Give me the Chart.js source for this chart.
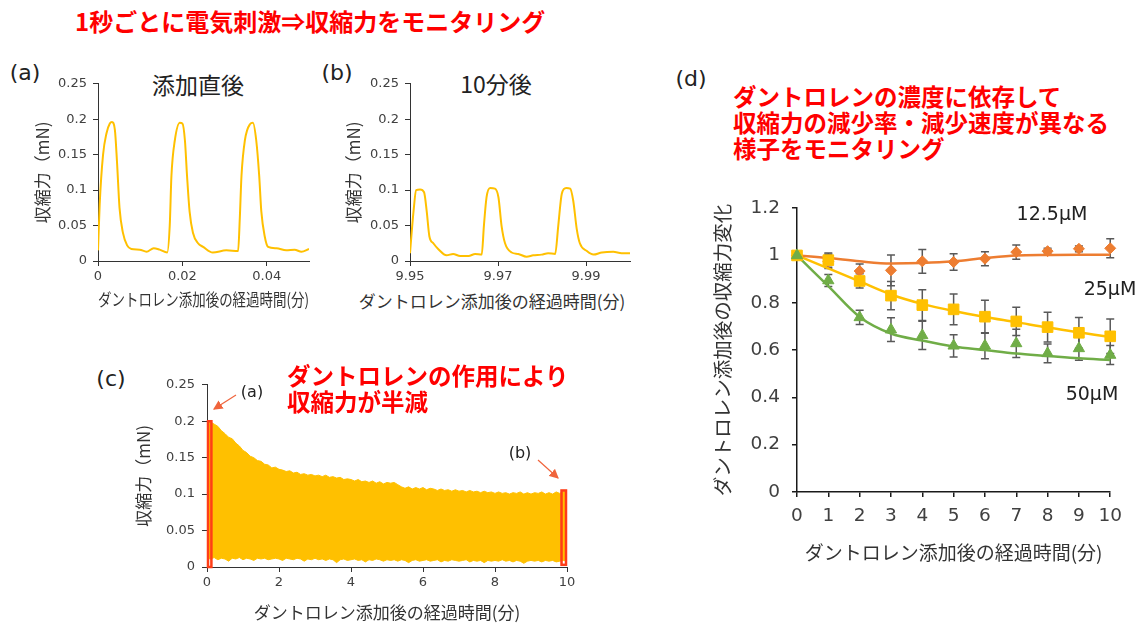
<!DOCTYPE html>
<html>
<head>
<meta charset="utf-8">
<script src="https://cdn.jsdelivr.net/npm/chart.js@4.4.0/dist/chart.umd.min.js"></script>
<style>
body { margin: 0; width: 1142px; height: 624px; background: #fff; position: relative; overflow: hidden; font-family: 'DejaVu Sans', 'Noto Sans CJK JP', sans-serif; }
canvas { position: absolute; }
.t { position: absolute; white-space: nowrap; transform: translate(-50%, -50%); color: #222; }
.red { position: absolute; white-space: nowrap; color: #ff0000; font-weight: bold; font-family: 'Noto Sans CJK JP', sans-serif; font-size: 23.5px; line-height: 26px; }
svg { position: absolute; left: 0; top: 0; }
</style>
</head>
<body>
<div class="red" style="left:75px;top:8px;font-size:24px;">1秒ごとに電気刺激⇒収縮力をモニタリング</div>

<div class="t" style="left:25px;top:72px;font-size:22px;">(a)</div>
<div class="t" style="left:337px;top:72px;font-size:22px;">(b)</div>
<div class="t" style="left:111px;top:378px;font-size:22px;">(c)</div>
<div class="t" style="left:691px;top:78px;font-size:22px;">(d)</div>

<div class="t" style="left:198px;top:84px;font-size:23px;font-family:'Noto Sans CJK JP';">添加直後</div>
<div class="t" style="left:496px;top:83px;font-size:23px;font-family:'Noto Sans CJK JP';">10分後</div>
<div class="t" style="left:492px;top:300px;font-size:17px;font-family:'Noto Sans CJK JP';color:#333;">ダントロレン添加後の経過時間(分)</div>

<canvas id="chartA" width="293" height="244" style="left:28px;top:70px;"></canvas>
<canvas id="chartB" width="303" height="244" style="left:339px;top:70px;"></canvas>
<canvas id="chartC" width="453" height="257" style="left:129px;top:370px;"></canvas>
<canvas id="chartD" width="423" height="383" style="left:707px;top:185px;"></canvas>

<div class="red" style="left:287px;top:362px;">ダントロレンの作用により<br>収縮力が半減</div>
<div class="red" style="left:733px;top:83px;">ダントロレンの濃度に依存して<br>収縮力の減少率・減少速度が異なる<br>様子をモニタリング</div>

<div class="t" style="left:252px;top:391px;font-size:16px;">(a)</div>
<div class="t" style="left:520px;top:452px;font-size:16px;">(b)</div>

<div class="t" style="left:1052px;top:213px;font-size:19px;">12.5µM</div>
<div class="t" style="left:1110px;top:288px;font-size:19px;">25µM</div>
<div class="t" style="left:1092px;top:393px;font-size:19px;">50µM</div>

<svg width="1142" height="624">
  <defs>
    <marker id="ah" markerWidth="8" markerHeight="8" refX="7" refY="4" orient="auto">
      <path d="M0,0 L8,4 L0,8 z" fill="#f0643c"/>
    </marker>
  </defs>
  <line x1="236" y1="395" x2="214" y2="409" stroke="#f0643c" stroke-width="1.2" marker-end="url(#ah)"/>
  <line x1="538" y1="460" x2="558" y2="478" stroke="#f0643c" stroke-width="1.2" marker-end="url(#ah)"/>
</svg>

<script>
// (a) 添加直後 : time (min) / force (mN)
const aTime = [0, 0.0004, 0.0012, 0.002, 0.0028, 0.0033, 0.004, 0.0045, 0.0051, 0.0059, 0.0069, 0.0079, 0.0099, 0.0115, 0.0132, 0.0146, 0.0164,
  0.017, 0.0174, 0.0182, 0.0194, 0.02, 0.0206, 0.0211, 0.0217, 0.0225, 0.0237, 0.0249, 0.0272, 0.0304, 0.0332,
  0.0336, 0.034, 0.0348, 0.036, 0.0367, 0.0375, 0.0382, 0.0387, 0.0395, 0.0403, 0.0423, 0.0446, 0.0466, 0.0482, 0.05];
const aForce = [0.015, 0.08, 0.15, 0.18, 0.194, 0.196, 0.185, 0.14, 0.075, 0.04, 0.022, 0.017, 0.016, 0.013, 0.018, 0.016, 0.012,
  0.05, 0.12, 0.17, 0.195, 0.194, 0.17, 0.12, 0.07, 0.04, 0.025, 0.02, 0.012, 0.015, 0.014,
  0.06, 0.12, 0.17, 0.193, 0.195, 0.17, 0.12, 0.07, 0.035, 0.02, 0.018, 0.015, 0.016, 0.013, 0.017];

// (b) 10分後
const bTime = [9.95, 9.9508, 9.9514, 9.9523, 9.9532, 9.9538, 9.9544, 9.9553, 9.9564, 9.9583, 9.9598, 9.9614, 9.9633, 9.9648, 9.9663,
  9.9668, 9.9674, 9.9682, 9.9693, 9.9701, 9.9708, 9.9716, 9.9731, 9.9746, 9.9765, 9.978, 9.9799, 9.9814, 9.983,
  9.9837, 9.9845, 9.9855, 9.9864, 9.9871, 9.9879, 9.9886, 9.9902, 9.9917, 9.9936, 9.9962, 9.9981, 10.0];
const bForce = [0.011, 0.07, 0.1, 0.101, 0.097, 0.07, 0.035, 0.025, 0.017, 0.008, 0.01, 0.007, 0.007, 0.01, 0.009,
  0.05, 0.09, 0.103, 0.102, 0.09, 0.05, 0.025, 0.012, 0.01, 0.006, 0.008, 0.009, 0.011, 0.01,
  0.05, 0.095, 0.103, 0.102, 0.085, 0.045, 0.025, 0.014, 0.009, 0.012, 0.013, 0.011, 0.011];

// (c) 10分間の収縮力（0.1分ごとの上限・下限）
const cUpper = [
  0.200, 0.199, 0.196, 0.193, 0.187, 0.183, 0.178, 0.176, 0.170, 0.166,
  0.160, 0.157, 0.152, 0.150, 0.146, 0.145, 0.141, 0.140, 0.136, 0.137,
  0.134, 0.133, 0.131, 0.132, 0.129, 0.130, 0.127, 0.128, 0.126, 0.127,
  0.125, 0.126, 0.124, 0.126, 0.123, 0.124, 0.122, 0.123, 0.120, 0.121,
  0.120, 0.118, 0.120, 0.117, 0.118, 0.116, 0.118, 0.115, 0.117, 0.114,
  0.116, 0.115, 0.116, 0.113, 0.110, 0.108, 0.110, 0.107, 0.109, 0.107,
  0.109, 0.106, 0.108, 0.107, 0.105, 0.107, 0.105, 0.106, 0.104, 0.106,
  0.104, 0.105, 0.103, 0.105, 0.103, 0.104, 0.102, 0.104, 0.102, 0.103,
  0.101, 0.103, 0.101, 0.102, 0.100, 0.102, 0.101, 0.103, 0.100, 0.102,
  0.100, 0.102, 0.101, 0.103, 0.100, 0.102, 0.100, 0.103, 0.101, 0.104,
  0.102];
const cLower = [
  0.012, 0.011, 0.013, 0.010, 0.012, 0.011, 0.008, 0.012, 0.011, 0.013,
  0.010, 0.012, 0.011, 0.009, 0.012, 0.011, 0.012, 0.010, 0.011, 0.012,
  0.011, 0.009, 0.012, 0.011, 0.010, 0.012, 0.011, 0.008, 0.011, 0.010,
  0.012, 0.010, 0.011, 0.009, 0.011, 0.010, 0.006, 0.010, 0.011, 0.009,
  0.010, 0.011, 0.009, 0.010, 0.007, 0.010, 0.009, 0.011, 0.010, 0.008,
  0.010, 0.009, 0.010, 0.008, 0.010, 0.009, 0.006, 0.009, 0.010, 0.008,
  0.009, 0.010, 0.008, 0.009, 0.010, 0.007, 0.009, 0.008, 0.010, 0.009,
  0.008, 0.009, 0.010, 0.007, 0.009, 0.008, 0.009, 0.006, 0.009, 0.008,
  0.009, 0.008, 0.010, 0.008, 0.009, 0.007, 0.009, 0.008, 0.005, 0.008,
  0.009, 0.008, 0.009, 0.007, 0.009, 0.008, 0.009, 0.007, 0.008, 0.009,
  0.008];
const cTime = cUpper.map((_, i) => i / 10);
// 拡大区間 (a),(b) : [xmin, xmax, ymin, ymax]
const boxA = [0, 0.15, 0, 0.2];
const boxB = [9.82, 10, 0.003, 0.105];

// (d) 濃度別の収縮力変化
const minutesD = [0, 1, 2, 3, 4, 5, 6, 7, 8, 9, 10];
const mean125 = [1.0, 0.975, 0.934, 0.937, 0.975, 0.972, 0.986, 1.014, 1.018, 1.028, 1.03];
const err125 = [0, 0.03, 0.03, 0.065, 0.05, 0.035, 0.03, 0.03, 0.012, 0.012, 0.04];
const fit125 = [1.0, 0.989, 0.975, 0.966, 0.968, 0.975, 0.989, 1.0, 1.002, 1.003, 1.003];
const mean25 = [1.0, 0.98, 0.892, 0.83, 0.79, 0.772, 0.741, 0.721, 0.697, 0.673, 0.658];
const err25 = [0, 0.03, 0.03, 0.06, 0.065, 0.065, 0.07, 0.06, 0.063, 0.065, 0.073];
const fit25 = [1.0, 0.945, 0.89, 0.835, 0.795, 0.765, 0.74, 0.718, 0.695, 0.675, 0.655];
const mean50 = [1.0, 0.894, 0.738, 0.686, 0.662, 0.618, 0.618, 0.628, 0.586, 0.607, 0.579];
const err50 = [0, 0.025, 0.03, 0.05, 0.06, 0.047, 0.055, 0.06, 0.04, 0.05, 0.04];
const fit50 = [1.0, 0.87, 0.74, 0.67, 0.64, 0.615, 0.6, 0.585, 0.575, 0.565, 0.558];

// tick labels
const ticksForce = [0, 0.05, 0.1, 0.15, 0.2, 0.25];
const ticksTimeA = [0, 0.02, 0.04];
const ticksTimeB = [9.95, 9.97, 9.99];
const ticksTimeC = [0, 2, 4, 6, 8, 10];
const ticksTimeD = [0, 1, 2, 3, 4, 5, 6, 7, 8, 9, 10];
const ticksRatioD = [0, 0.2, 0.4, 0.6, 0.8, 1, 1.2];

const TICK_COLOR = '#404040';
const YELLOW = '#ffc000';

function makeAxis(o) {
    const axisColor = o.axisColor || '#333';
    return {
        type: 'linear',
        min: o.min,
        max: o.max,
        border: { display: true, color: axisColor, width: o.axisWidth || 1 },
        grid: { drawOnChartArea: false, drawTicks: true, tickLength: 5, color: axisColor, lineWidth: o.axisWidth || 1 },
        ticks: {
            color: TICK_COLOR,
            font: { family: 'DejaVu Sans', size: o.tickSize },
            padding: o.pad,
            maxRotation: 0,
            autoSkip: false,
            callback: v => String(v)
        },
        title: o.title
            ? { display: true, text: o.title, color: '#333', padding: 4, font: { family: "'Noto Sans CJK JP'", size: o.titleSize } }
            : { display: false },
        afterBuildTicks: ax => { ax.ticks = o.ticks.map(v => ({ value: v })); },
        afterFit: ax => { if (o.isY) ax.width = o.size; else ax.height = o.size; }
    };
}

const baseOptions = (padding, x, y) => ({
    responsive: false,
    animation: false,
    layout: { padding: padding },
    plugins: { legend: { display: false }, tooltip: { enabled: false } },
    scales: { x: x, y: y }
});

function pairs(xs, ys) {
    return xs.map((x, i) => ({ x: x, y: ys[i] }));
}

// (a)
new Chart(document.getElementById('chartA'), {
    type: 'line',
    data: {
        datasets: [{
            data: pairs(aTime, aForce),
            borderColor: YELLOW, borderWidth: 2, pointRadius: 0, cubicInterpolationMode: 'monotone'
        }]
    },
    options: baseOptions({ top: 12, right: 12, left: 0, bottom: 0 },
        makeAxis({ min: 0, max: 0.05, ticks: ticksTimeA, tickSize: 13, pad: 3, size: 53, title: 'ダントロレン添加後の経過時間(分)', titleSize: 17 }),
        makeAxis({ min: 0, max: 0.25, ticks: ticksForce, tickSize: 13, pad: 6, size: 70, isY: true, title: '収縮力（mN)', titleSize: 17 }))
});

// (b)
new Chart(document.getElementById('chartB'), {
    type: 'line',
    data: {
        datasets: [{
            data: pairs(bTime, bForce),
            borderColor: YELLOW, borderWidth: 2, pointRadius: 0, cubicInterpolationMode: 'monotone'
        }]
    },
    options: baseOptions({ top: 12, right: 12, left: 0, bottom: 0 },
        makeAxis({ min: 9.95, max: 10, ticks: ticksTimeB, tickSize: 13, pad: 3, size: 53 }),
        makeAxis({ min: 0, max: 0.25, ticks: ticksForce, tickSize: 13, pad: 6, size: 71, isY: true, title: '収縮力（mN)', titleSize: 17 }))
});

// (c) highlighted windows
const boxPlugin = {
    id: 'boxes',
    afterDatasetsDraw(chart) {
        const { ctx, scales: { x, y } } = chart;
        ctx.save();
        ctx.strokeStyle = '#ff3d17';
        ctx.lineWidth = 2.5;
        [boxA, boxB].forEach(b => {
            const x0 = x.getPixelForValue(b[0]), x1 = x.getPixelForValue(b[1]);
            const y0 = y.getPixelForValue(b[2]), y1 = y.getPixelForValue(b[3]);
            ctx.strokeRect(x0 + 1, y1, x1 - x0 - 2, y0 - y1);
        });
        ctx.restore();
    }
};

new Chart(document.getElementById('chartC'), {
    type: 'line',
    data: {
        datasets: [
            { data: pairs(cTime, cUpper), borderColor: YELLOW, backgroundColor: YELLOW, borderWidth: 1, pointRadius: 0, fill: '+1' },
            { data: pairs(cTime, cLower), borderColor: YELLOW, borderWidth: 1, pointRadius: 0, fill: false }
        ]
    },
    options: baseOptions({ top: 11, right: 15, left: 0, bottom: 0 },
        makeAxis({ min: 0, max: 10, ticks: ticksTimeC, tickSize: 13, pad: 3, size: 60, title: 'ダントロレン添加後の経過時間(分)', titleSize: 17 }),
        makeAxis({ min: 0, max: 0.25, ticks: ticksForce, tickSize: 13, pad: 7, size: 78, isY: true, title: '収縮力（mN)', titleSize: 17 })),
    plugins: [boxPlugin]
});

// (d) error bars
const errorBarPlugin = {
    id: 'errorBars',
    beforeDatasetsDraw(chart) {
        const { ctx, scales: { x, y } } = chart;
        ctx.save();
        ctx.strokeStyle = '#595959';
        ctx.lineWidth = 1.5;
        chart.data.datasets.forEach(ds => {
            if (!ds.errorBars) return;
            ds.data.forEach((p, i) => {
                const e = ds.errorBars[i];
                if (!e) return;
                const px = x.getPixelForValue(p.x);
                const top = y.getPixelForValue(p.y + e);
                const bot = y.getPixelForValue(p.y - e);
                ctx.beginPath();
                ctx.moveTo(px, top); ctx.lineTo(px, bot);
                ctx.moveTo(px - 4, top); ctx.lineTo(px + 4, top);
                ctx.moveTo(px - 4, bot); ctx.lineTo(px + 4, bot);
                ctx.stroke();
            });
        });
        ctx.restore();
    }
};

const ORANGE = '#ed7d31';
const GREEN = '#70ad47';

function markers(ys, errs, color, style, r, order) {
    return {
        data: pairs(minutesD, ys), errorBars: errs, showLine: false,
        pointStyle: style, pointRadius: r, pointBackgroundColor: color, pointBorderColor: color, pointBorderWidth: 1,
        order: order, clip: false
    };
}
function fitLine(ys, color) {
    return {
        data: pairs(minutesD, ys), borderColor: color, borderWidth: 2.5, pointRadius: 0,
        cubicInterpolationMode: 'monotone', order: 5, clip: false
    };
}

new Chart(document.getElementById('chartD'), {
    type: 'line',
    data: {
        datasets: [
            fitLine(fit125, ORANGE),
            fitLine(fit25, YELLOW),
            fitLine(fit50, GREEN),
            markers(mean125, err125, ORANGE, 'rectRot', 5.5, 3),
            markers(mean25, err25, YELLOW, 'rect', 7.5, 2),
            markers(mean50, err50, GREEN, 'triangle', 6.5, 1)
        ]
    },
    options: baseOptions({ top: 17, right: 18, left: 0, bottom: 0 },
        makeAxis({ min: 0, max: 10, ticks: ticksTimeD, tickSize: 18.5, pad: 8, size: 76, axisColor: '#1a1a1a', axisWidth: 1.5, title: 'ダントロレン添加後の経過時間(分)', titleSize: 19 }),
        makeAxis({ min: 0, max: 1.2, ticks: ticksRatioD, tickSize: 18.5, pad: 12, size: 90, axisColor: '#1a1a1a', axisWidth: 1.5, isY: true, title: 'ダントロレン添加後の収縮力変化', titleSize: 19.5 })),
    plugins: [errorBarPlugin]
});
</script>
</body>
</html>
